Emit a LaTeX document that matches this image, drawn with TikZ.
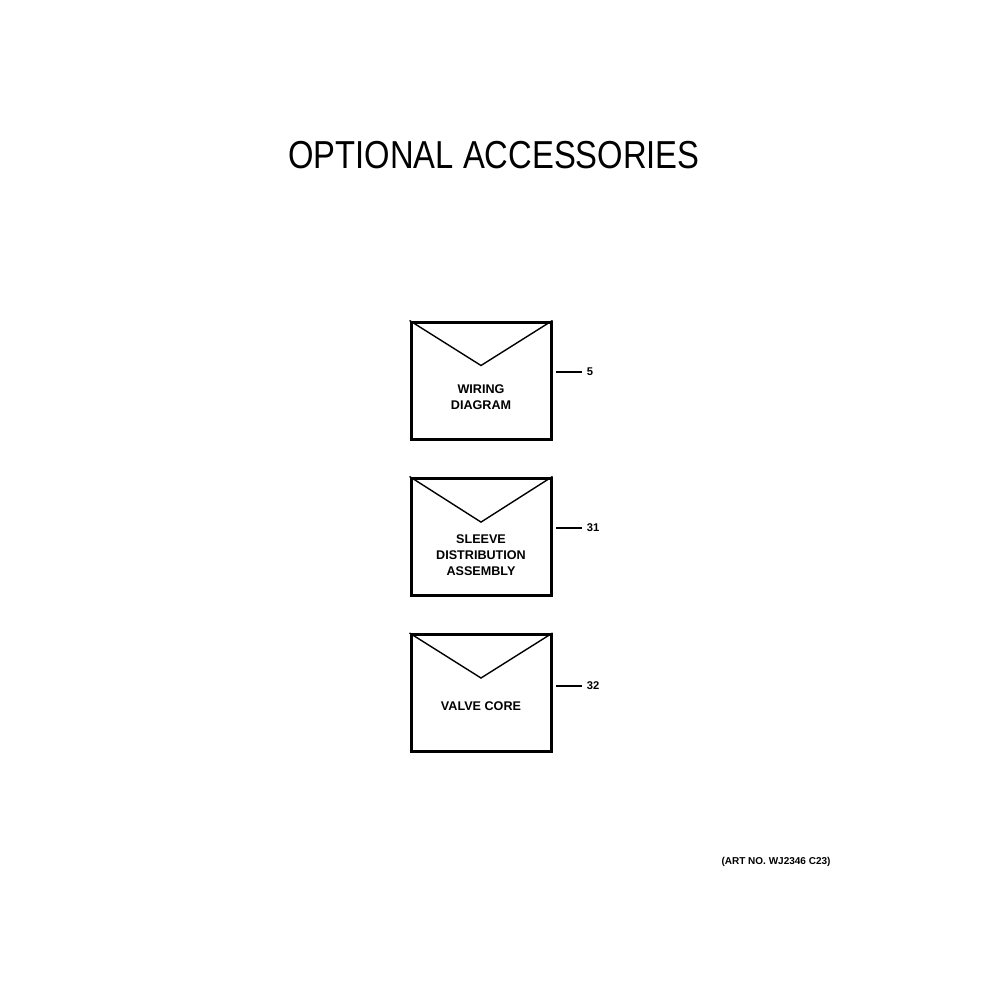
\documentclass[tikz,border=0pt]{standalone}
\usepackage{fontspec}
\setmainfont{Liberation Sans}
\usetikzlibrary{positioning}

\begin{document}
\begin{tikzpicture}[x=0.5pt,y=-0.5pt,
  envelope/.style={draw,line width=1.5pt,minimum width=70pt,minimum height=58.5pt,inner sep=0pt},
  flap/.style={line width=0.7pt},
  lbl/.style={font=\bfseries\fontsize{6.3}{8}\selectfont,align=center,inner sep=0pt},
  num/.style={font=\bfseries\fontsize{5.6}{6}\selectfont,anchor=west,inner sep=0pt},
  lead/.style={line width=0.7pt}]
\useasboundingbox (0,0) rectangle (1000,1000);
% title
\node (title) at (494,155) {\fontsize{19.5}{22}\selectfont\scalebox{0.84}[1]{OPTIONAL ACCESSORIES}};
% envelopes
\node[envelope] (wd) at (481,380.5) {};
\draw[flap] (wd.north west) -- ([yshift=-22.5pt]wd.north) -- (wd.north east);
\node[lbl] (wdtext) at ([yshift=-8.5pt]wd.center) {WIRING\\DIAGRAM};
\node[num] (n5) at ([xshift=17pt,yshift=4.2pt]wd.east) {5};
\draw[lead] ([xshift=1.5pt]wd.east |- n5.west) -- ([xshift=-2.5pt]n5.west);

\node[envelope] (sda) at (481,536.5) {};
\draw[flap] (sda.north west) -- ([yshift=-22.8pt]sda.north) -- (sda.north east);
\node[lbl] (sdatext) at ([yshift=-9.2pt]sda.center) {SLEEVE\\DISTRIBUTION\\ASSEMBLY};
\node[num] (n31) at ([xshift=17pt,yshift=4.2pt]sda.east) {31};
\draw[lead] ([xshift=1.5pt]sda.east |- n31.west) -- ([xshift=-2.5pt]n31.west);

\node[envelope] (vc) at (481,693) {};
\draw[flap] (vc.north west) -- ([yshift=-22.5pt]vc.north) -- (vc.north east);
\node[lbl] (vctext) at ([yshift=-6.8pt]vc.center) {VALVE CORE};
\node[num] (n32) at ([xshift=17pt,yshift=3.6pt]vc.east) {32};
\draw[lead] ([xshift=1.5pt]vc.east |- n32.west) -- ([xshift=-2.5pt]n32.west);
% art number
\node[lbl,font=\bfseries\fontsize{5}{6}\selectfont] (artno) at (776,862) {(ART NO. WJ2346 C23)};
\end{tikzpicture}
\end{document}
